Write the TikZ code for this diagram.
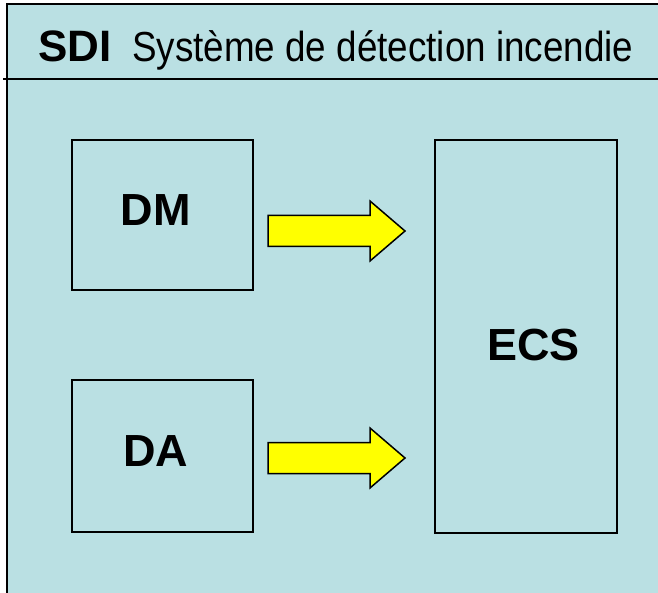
\documentclass[tikz,border=0pt]{standalone}
\usepackage{fontspec}
\setmainfont{Liberation Sans}
\newfontfamily\titrefont[FakeStretch=0.876]{Liberation Sans}
\definecolor{fondSDI}{RGB}{186,224,227}
\definecolor{jauneFleche}{RGB}{255,255,0}
\tikzset{
  boite/.style={draw, line width=1.2pt, minimum width=181pt, inner sep=0pt},
  etiquette/.style={inner sep=0pt, font=\bfseries\fontsize{45}{50}\selectfont},
  fleche/.style={draw, fill=jauneFleche, line width=1.5pt, line join=miter},
}

\begin{document}
\begin{tikzpicture}[x=1pt,y=-1pt]
	\useasboundingbox (0,0) rectangle (658,593);
	\fill[white] (0,0) rectangle (658,593);
	\draw[fill=fondSDI, line width=1.5pt] (7,4) rectangle (670,605);
	\draw[line width=1.5pt] (3,79) -- (658,79);

	\node[anchor=base west, inner sep=0pt, font=\bfseries\fontsize{44}{50}\selectfont] (sdi) at (38,62) {SDI};
	\node[anchor=base west, inner sep=0pt, font=\titrefont\fontsize{42}{48}\selectfont] (titre) at (132,62) {Système de détection incendie};

	\node[boite, minimum height=150pt] (boiteDM) at (162.5,215) {};
	\node[boite, minimum height=152pt] (boiteDA) at (162.5,456) {};
	\node[boite, minimum width=182pt, minimum height=393pt] (boiteECS) at (526,336.5) {};

	\node[etiquette] (DM) at ([xshift=-7pt,yshift=5pt]boiteDM.center) {DM};
	\node[etiquette] (DA) at ([xshift=-7pt,yshift=5pt]boiteDA.center) {DA};
	\node[etiquette] (ECS) at ([xshift=7.5pt,yshift=-9pt]boiteECS.center) {ECS};

	\foreach \yc in {231,458} {
		\draw[fleche] (268,\yc-15.5) -- (370,\yc-15.5) -- (370,\yc-30) -- (405,\yc)
			-- (370,\yc+30) -- (370,\yc+15.5) -- (268,\yc+15.5) -- cycle;
	}
\end{tikzpicture}
\end{document}
